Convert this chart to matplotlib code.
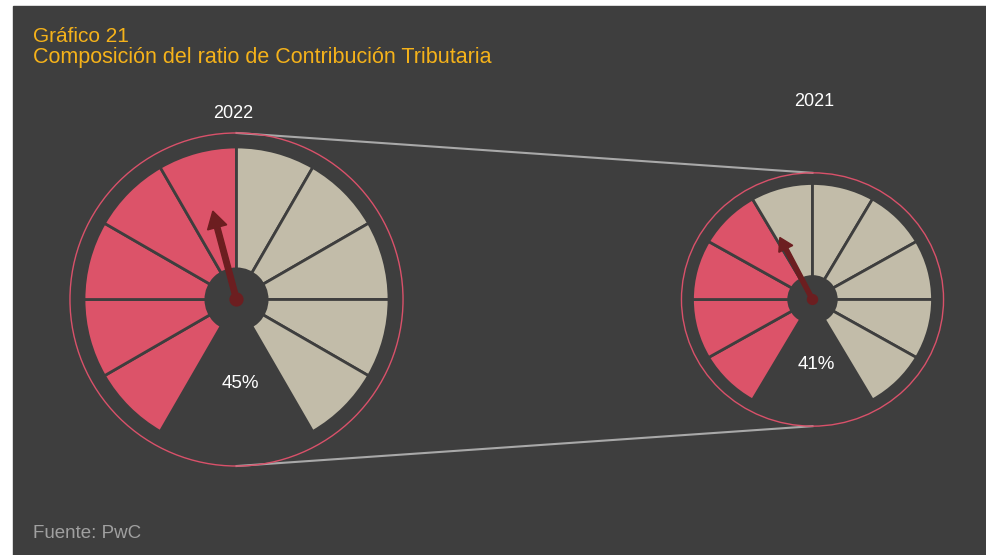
import matplotlib
matplotlib.use('Agg')
import numpy as np
import matplotlib.pyplot as plt
from matplotlib.patches import Wedge, Circle, Rectangle, FancyArrow
from matplotlib.transforms import Affine2D

plt.rcParams['font.family'] = ['Liberation Sans', 'DejaVu Sans']

# datos
titulo = 'Gráfico 21'
subtitulo = 'Composición del ratio de Contribución Tributaria'
fuente = 'Fuente: PwC'
anios = ['2022', '2021']
ratios = [45, 41]            # % contribución tributaria
segmentos_rojos = [5, 4]     # segmentos rosados de 10
n_segmentos = 10

fondo = '#3e3e3e'
rosa = '#dc5369'
beige = '#c2bca9'
aguja = '#6c1e20'
amarillo = '#f5b21a'

W, H = 987, 555
fig = plt.figure(figsize=(W / 100, H / 100), dpi=100)
ax = fig.add_axes([0, 0, 1, 1])
ax.set_xlim(0, W)
ax.set_ylim(0, H)
ax.axis('off')
fig.patch.set_facecolor('white')
ax.add_patch(Rectangle((13, -5), W, H - 1, color=fondo, zorder=0, clip_on=False))

# (cx, cy, escala x, escala y) en pixeles, y desde abajo
gauges = [(236.5, H - 299.5, 152.5, 152.5), (812.5, H - 299.5, 120.0, 116.0)]
anillo = 1.092
centros_anio = [(233, H - 118), (814.5, H - 106)]
baseline_pct = [H - 388, H - 369]


def dibujar_gauge(cx, cy, sx, sy, ratio, rojos):
    tr = Affine2D().scale(sx, sy).translate(cx, cy) + ax.transData
    paso = 300 / n_segmentos
    for i in range(n_segmentos):
        a2 = 240 - i * paso
        a1 = a2 - paso
        color = rosa if i < rojos else beige
        ax.add_patch(Wedge((0, 0), 1, a1, a2, facecolor=color, edgecolor=fondo,
                           linewidth=2, transform=tr, zorder=2))
    ax.add_patch(Circle((0, 0), 0.21, facecolor=fondo, edgecolor='none', transform=tr, zorder=3))
    ax.add_patch(Circle((0, 0), anillo, facecolor='none', edgecolor='#d9516a',
                        linewidth=1, transform=tr, zorder=2))
    ang = np.deg2rad(240 - ratio / 100 * 300)
    largo = 0.6
    ax.add_patch(FancyArrow(0, 0, largo * np.cos(ang), largo * np.sin(ang), width=0.036,
                            head_width=0.13, head_length=0.11, length_includes_head=True,
                            color=aguja, transform=tr, zorder=4))
    ax.add_patch(Circle((0, 0), 0.042, color=aguja, transform=tr, zorder=4))


# lineas de union
(x1, y1, sx1, sy1), (x2, y2, sx2, sy2) = gauges
ax.plot([x1, x2], [y1 + anillo * sy1, y2 + anillo * sy2], color='#a9a9a9', lw=1.5, zorder=1)
ax.plot([x1, x2], [y1 - anillo * sy1, y2 - anillo * sy2], color='#a9a9a9', lw=1.5, zorder=1)

for (cx, cy, sx, sy), r, n, (tx, ty), by, anio in zip(gauges, ratios, segmentos_rojos,
                                                      centros_anio, baseline_pct, anios):
    dibujar_gauge(cx, cy, sx, sy, r, n)
    ax.text(tx, ty, anio, color='white', fontsize=13, ha='center', va='baseline', zorder=5)
    ax.text(cx + 3.5, by, f'{r}%', color='white', fontsize=13.5, ha='center', va='baseline', zorder=5)

ax.text(33, H - 42, titulo, color=amarillo, fontsize=15, va='baseline')
ax.text(33, H - 63, subtitulo, color=amarillo, fontsize=15.5, va='baseline')
ax.text(33, H - 538, fuente, color='#a0a0a0', fontsize=13.5, va='baseline')

fig.savefig('out.png', dpi=100, facecolor='white')
